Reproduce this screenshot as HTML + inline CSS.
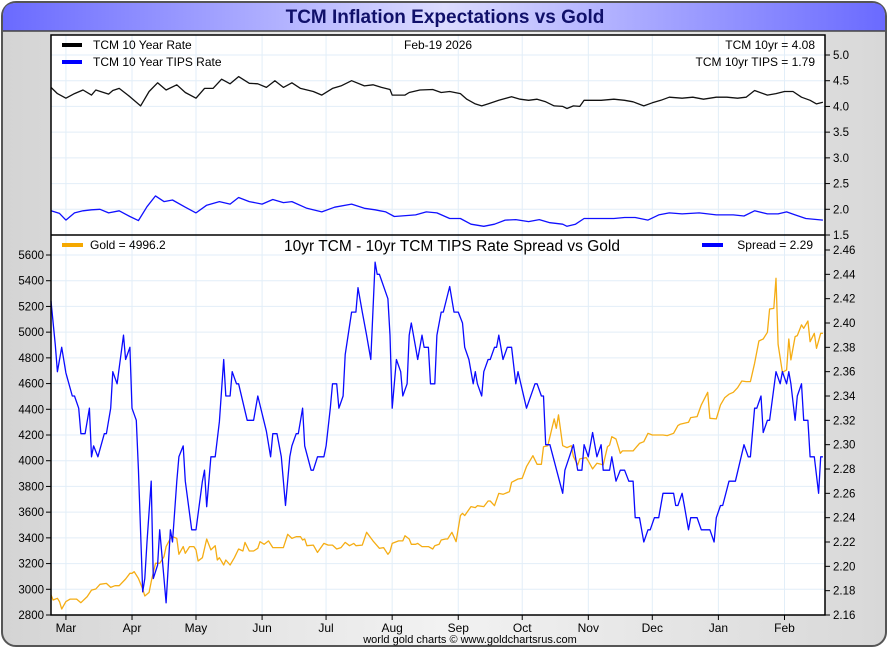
<!DOCTYPE html>
<html><head><meta charset="utf-8"><style>
html,body{margin:0;padding:0;width:890px;height:650px;overflow:hidden;background:#fff}
svg text{font-family:"Liberation Sans",Arial,sans-serif}
</style></head><body>
<svg id="chart" width="890" height="650" viewBox="0 0 890 650" xmlns="http://www.w3.org/2000/svg">
<defs>
<linearGradient id="tg" x1="0" x2="1" y1="0" y2="0">
<stop offset="0" stop-color="#6a6aff"/><stop offset="0.5" stop-color="#dcdcff"/><stop offset="1" stop-color="#6a6aff"/>
</linearGradient>
<linearGradient id="bg" x1="0" x2="1" y1="0" y2="0">
<stop offset="0" stop-color="#d4d4d4"/><stop offset="0.5" stop-color="#f2f2f2"/><stop offset="1" stop-color="#d8d8d8"/>
</linearGradient>
</defs>
<rect x="2" y="2" width="884" height="644" rx="14" fill="url(#bg)" stroke="#555" stroke-width="2"/>
<path d="M3,31 L3,16 Q3,3 16,3 L872,3 Q885,3 885,16 L885,31 Z" fill="url(#tg)"/>
<line x1="3" y1="31" x2="885" y2="31" stroke="#444" stroke-width="1.5"/>
<text x="445" y="23" text-anchor="middle" font-size="19" font-weight="bold" fill="#10106a">TCM Inflation Expectations vs Gold</text>
<rect x="51" y="35" width="774" height="580" fill="#fff"/>
<g id="grid"></g>
<g id="marks"></g>
<g id="axes"></g>
<rect x="51" y="35" width="774" height="580" fill="none" stroke="#000" stroke-width="1.5"/>
<line x1="51" y1="235" x2="825" y2="235" stroke="#000" stroke-width="1.5"/>
<g font-size="12" fill="#000">
<line x1="62" y1="45" x2="82" y2="45" stroke="#000" stroke-width="4"/>
<text x="93" y="49">TCM 10 Year Rate</text>
<line x1="62" y1="62" x2="82" y2="62" stroke="#00f" stroke-width="4"/>
<text x="93" y="66">TCM 10 Year TIPS Rate</text>
<text x="404" y="49">Feb-19  2026</text>
<text x="815" y="49" text-anchor="end">TCM 10yr = 4.08</text>
<text x="815" y="66" text-anchor="end">TCM 10yr TIPS = 1.79</text>
<line x1="62" y1="245" x2="83" y2="245" stroke="#f5a800" stroke-width="4"/>
<text x="90" y="249">Gold = 4996.2</text>
<text x="452" y="251" text-anchor="middle" font-size="15.5">10yr TCM - 10yr TCM TIPS Rate Spread vs Gold</text>
<line x1="702" y1="245" x2="723" y2="245" stroke="#00f" stroke-width="4"/>
<text x="813" y="249" text-anchor="end">Spread = 2.29</text>
</g>
<text x="470" y="643" text-anchor="middle" font-size="11" fill="#000">world gold charts © www.goldchartsrus.com</text>
</svg>
<script>
const monthLabels=["Mar","Apr","May","Jun","Jul","Aug","Sep","Oct","Nov","Dec","Jan","Feb"];
const monthDays=[7,38,68,99,129,160,191,221,252,282,313,344];
const topTicks=[1.5,2.0,2.5,3.0,3.5,4.0,4.5,5.0];
const goldTicks=[2800,3000,3200,3400,3600,3800,4000,4200,4400,4600,4800,5000,5200,5400,5600];
const spreadTicks=[2.16,2.18,2.20,2.22,2.24,2.26,2.28,2.30,2.32,2.34,2.36,2.38,2.40,2.42,2.44,2.46];
const tcmDays=[0,3,7,11,15,19,21,27,29,32,37,42,46,50,54,59,63,68,72,76,80,84,88,93,97,101,105,109,113,117,123,127,132,136,141,147,151,155,159,160,166,168,173,179,183,187,192,195,199,202,205,210,216,220,224,228,232,236,240,242,245,248,250,254,258,264,269,273,278,282,286,290,296,301,306,312,317,322,326,330,336,340,344,348,352,356,359,362];
const tcmVals=[4.37,4.25,4.16,4.25,4.32,4.22,4.32,4.24,4.31,4.35,4.19,4.01,4.29,4.46,4.32,4.42,4.27,4.16,4.35,4.35,4.53,4.44,4.58,4.45,4.44,4.37,4.50,4.37,4.46,4.35,4.29,4.22,4.35,4.40,4.50,4.40,4.42,4.37,4.33,4.22,4.22,4.27,4.32,4.33,4.27,4.29,4.25,4.14,4.05,4.01,4.05,4.12,4.19,4.14,4.12,4.14,4.09,4.01,4.00,3.96,4.01,4.00,4.12,4.12,4.12,4.14,4.12,4.09,4.01,4.07,4.12,4.18,4.16,4.18,4.14,4.18,4.18,4.16,4.18,4.31,4.22,4.25,4.29,4.29,4.18,4.12,4.05,4.08];
const tipsDays=[0,4,7,11,15,19,23,27,32,37,41,45,49,53,57,63,68,73,79,84,88,93,99,104,109,113,120,127,133,141,147,152,157,161,171,176,181,187,192,197,203,208,213,218,224,229,234,240,242,246,250,256,264,269,274,280,285,290,296,304,312,320,325,330,336,341,345,349,354,362];
const tipsVals=[1.97,1.92,1.79,1.93,1.97,1.99,2.00,1.93,1.97,1.86,1.78,2.05,2.26,2.15,2.18,2.04,1.93,2.08,2.15,2.10,2.23,2.15,2.10,2.19,2.13,2.15,2.02,1.95,2.04,2.10,2.02,1.99,1.95,1.86,1.89,1.95,1.93,1.82,1.82,1.71,1.67,1.71,1.79,1.80,1.76,1.80,1.74,1.71,1.67,1.71,1.82,1.82,1.82,1.84,1.84,1.79,1.89,1.93,1.91,1.93,1.89,1.89,1.87,1.97,1.91,1.91,1.95,1.89,1.82,1.79];
const goldDays=[0,1,3,4,5,7,9,10,12,14,17,19,21,23,26,28,30,32,35,37,38,39,41,43,44,46,47,49,51,53,54,56,57,59,60,62,63,65,67,68,69,71,73,75,77,78,79,81,82,84,86,88,90,91,93,95,97,98,100,102,104,106,109,111,113,115,117,118,119,120,123,125,128,130,132,134,136,138,140,142,143,146,148,151,154,156,158,159,160,163,165,166,168,169,171,172,174,177,179,180,182,183,185,186,188,190,192,193,194,197,199,200,203,205,206,208,210,212,215,216,219,221,223,226,228,230,231,233,236,237,238,240,242,244,245,247,248,251,252,254,256,258,259,261,262,263,265,267,268,271,273,276,278,280,282,285,287,289,292,294,295,299,300,303,305,308,309,312,314,316,318,320,322,324,326,328,330,332,334,336,337,339,340,341,343,345,346,347,349,350,352,353,355,356,358,359,361,362];
const goldVals=[2956,2917,2930,2904,2847,2904,2924,2924,2924,2896,2943,2994,3002,3039,3046,3015,3028,3028,3080,3124,3124,3137,3085,3002,2948,2976,3059,3202,3202,3254,3332,3396,3409,3396,3272,3332,3280,3332,3332,3306,3220,3246,3391,3306,3339,3228,3246,3189,3228,3189,3246,3313,3298,3365,3298,3298,3319,3370,3350,3376,3324,3324,3324,3428,3396,3409,3409,3383,3391,3339,3344,3287,3357,3344,3344,3313,3324,3365,3339,3357,3339,3344,3443,3376,3319,3324,3272,3293,3357,3376,3376,3417,3391,3350,3350,3357,3332,3332,3313,3339,3350,3383,3391,3391,3443,3370,3573,3591,3573,3643,3635,3650,3643,3687,3687,3650,3746,3739,3759,3832,3858,3863,3954,4039,3972,3972,4109,4117,4325,4252,4356,4117,4102,4117,4032,3967,4014,4024,3998,3936,3980,3972,3967,4109,4122,4187,4169,4058,4076,4076,4076,4135,4148,4213,4200,4200,4200,4195,4213,4273,4283,4299,4335,4343,4434,4532,4330,4325,4434,4491,4517,4532,4568,4620,4615,4615,4758,4931,4947,4999,5180,5185,5419,4905,4688,4706,4947,4784,4965,4973,5056,5030,5087,4926,4991,4874,4991,4991];
const spreadDays=[0,2,3,5,7,10,11,13,14,16,18,19,20,22,25,26,28,29,31,34,35,37,38,40,41,43,44,45,47,48,50,51,53,54,56,57,59,60,62,63,66,68,71,72,73,75,77,79,81,82,84,85,87,88,92,95,97,101,103,104,106,108,110,112,113,115,116,118,119,122,123,125,128,129,131,132,134,135,137,138,141,143,144,146,148,150,152,153,154,158,159,160,162,164,165,167,168,169,171,172,174,175,177,178,180,181,183,184,187,189,191,193,194,196,198,199,200,202,203,205,206,208,209,210,212,214,216,218,219,223,227,228,230,231,232,234,240,241,245,247,249,250,252,254,256,258,259,262,263,265,267,269,271,273,274,276,278,280,281,283,285,287,292,293,294,296,297,299,300,303,305,309,311,312,314,315,318,321,325,327,328,330,331,333,334,336,337,340,342,343,345,346,347,349,350,352,353,355,356,358,360,361,362];
const spreadVals=[2.418,2.382,2.36,2.38,2.359,2.34,2.34,2.33,2.309,2.309,2.33,2.29,2.299,2.29,2.309,2.309,2.33,2.36,2.35,2.39,2.37,2.38,2.33,2.32,2.28,2.179,2.19,2.22,2.27,2.19,2.201,2.23,2.19,2.17,2.23,2.22,2.27,2.29,2.299,2.27,2.23,2.23,2.27,2.279,2.249,2.29,2.29,2.319,2.37,2.34,2.34,2.36,2.35,2.35,2.32,2.32,2.34,2.311,2.29,2.309,2.309,2.29,2.25,2.29,2.299,2.309,2.309,2.33,2.299,2.279,2.279,2.29,2.29,2.299,2.33,2.35,2.35,2.33,2.34,2.374,2.409,2.409,2.429,2.409,2.39,2.37,2.45,2.44,2.44,2.42,2.39,2.33,2.37,2.36,2.34,2.35,2.39,2.40,2.38,2.37,2.39,2.38,2.38,2.35,2.35,2.39,2.409,2.409,2.43,2.409,2.409,2.40,2.38,2.37,2.35,2.36,2.35,2.34,2.36,2.37,2.37,2.38,2.38,2.39,2.37,2.38,2.38,2.35,2.36,2.33,2.35,2.35,2.34,2.34,2.30,2.30,2.26,2.279,2.30,2.279,2.279,2.30,2.29,2.31,2.29,2.30,2.279,2.279,2.29,2.27,2.279,2.279,2.27,2.27,2.24,2.24,2.22,2.23,2.23,2.24,2.24,2.26,2.26,2.25,2.25,2.26,2.25,2.23,2.24,2.24,2.23,2.23,2.22,2.24,2.25,2.25,2.27,2.27,2.30,2.29,2.29,2.33,2.33,2.34,2.31,2.32,2.32,2.36,2.35,2.36,2.35,2.36,2.35,2.32,2.34,2.35,2.32,2.32,2.29,2.29,2.26,2.29,2.29];

const NS="http://www.w3.org/2000/svg";
const X0=51,X1=825,DAYSPAN=363;
function xS(d){return X0+d*(X1-X0)/DAYSPAN;}
function yTop(v){return 235-(v-1.5)*(180/3.5);}
function yGold(v){return 615-(v-2800)*(360/2800);}
function ySpread(v){return 615-(v-2.16)*(365/0.30);}
function mk(tag,attrs,parent){const e=document.createElementNS(NS,tag);for(const k in attrs)e.setAttribute(k,attrs[k]);parent.appendChild(e);return e;}
const grid=document.getElementById('grid'),marks=document.getElementById('marks'),axes=document.getElementById('axes');
const gc="#e2eef8";
monthDays.forEach((d,i)=>{
  const x=xS(d);
  const g=mk('line',{x1:x,x2:x,y1:35,y2:615,stroke:gc,'stroke-width':1},grid);
  
  
  mk('line',{x1:x,x2:x,y1:615,y2:620,stroke:'#000'},axes);
  const t=mk('text',{x:x,y:632,'text-anchor':'middle','font-size':12,fill:'#000'},axes);
  t.textContent=monthLabels[i];
  
  
});
topTicks.forEach(v=>{
  const y=yTop(v);
  if(v>1.5){const g=mk('line',{x1:51,x2:825,y1:y,y2:y,stroke:gc},grid);
  
  }
  mk('line',{x1:825,x2:830,y1:y,y2:y,stroke:'#000'},axes);
  const t=mk('text',{x:833,y:y+4,'font-size':11.5,fill:'#000'},axes);
  t.textContent=v.toFixed(1);
  
  
});
goldTicks.forEach(v=>{
  const y=yGold(v);
  const g=mk('line',{x1:51,x2:825,y1:y,y2:y,stroke:gc},grid);
  
  
  mk('line',{x1:46,x2:51,y1:y,y2:y,stroke:'#000'},axes);
  const t=mk('text',{x:44,y:y+4,'text-anchor':'end','font-size':11.5,fill:'#000'},axes);
  t.textContent=v;
  
  
});
spreadTicks.forEach(v=>{
  const y=ySpread(v);
  mk('line',{x1:825,x2:830,y1:y,y2:y,stroke:'#000'},axes);
  const t=mk('text',{x:833,y:y+4,'font-size':11.5,fill:'#000'},axes);
  t.textContent=v.toFixed(2);
  
  
});
function line(days,vals,ys,color,name){
  const d=days.map((dd,i)=>(i?'L':'M')+xS(dd).toFixed(1)+','+ys(vals[i]).toFixed(1)).join('');
  const p=mk('path',{d:d,fill:'none',stroke:color,'stroke-width':1.3,'stroke-linejoin':'round'},marks);
  
  
}
line(tcmDays,tcmVals,yTop,'#111','tcm-10yr-line');
line(tipsDays,tipsVals,yTop,'#1010ff','tips-10yr-line');
line(goldDays,goldVals,yGold,'#f5ad14','gold-line');
line(spreadDays,spreadVals,ySpread,'#0a0aff','spread-line');
</script>
</body></html>
